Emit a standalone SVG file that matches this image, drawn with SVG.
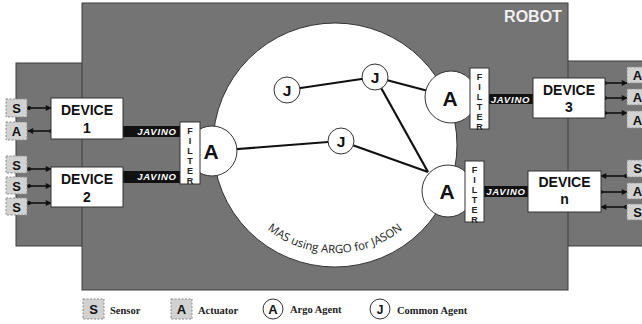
<svg xmlns="http://www.w3.org/2000/svg" width="642" height="324" viewBox="0 0 642 324">
  <style>
    .panel { fill: #747474; stroke: #3c3c3c; stroke-width: 1; }
    .dev { fill: #ffffff; stroke: #333333; stroke-width: 1; }
    .devt { font-family: "Liberation Sans", Arial, sans-serif; font-weight: bold; font-size: 14px; fill: #111; text-anchor: middle; }
    .bar { fill: #111111; }
    .jav { font-family: "Liberation Sans", Arial, sans-serif; font-weight: bold; font-style: italic; font-size: 9.5px; letter-spacing: 0.8px; fill: #ffffff; text-anchor: middle; }
    .filter { fill: #ffffff; stroke: #333333; stroke-width: 1; }
    .ft { font-family: "Liberation Sans", Arial, sans-serif; font-weight: bold; font-size: 9px; fill: #222; text-anchor: middle; }
    .io { fill: #d2d2d2; stroke: #8a8a8a; stroke-width: 1; stroke-dasharray: 2 1.5; }
    .iot { font-family: "Liberation Sans", Arial, sans-serif; font-weight: bold; font-size: 13px; fill: #111; text-anchor: middle; }
    .agent { fill: #ffffff; stroke: #333333; stroke-width: 1; }
    .at { font-family: "Liberation Sans", Arial, sans-serif; font-weight: bold; font-size: 21px; fill: #111; text-anchor: middle; }
    .jt { font-family: "Liberation Sans", Arial, sans-serif; font-weight: bold; font-size: 15.5px; fill: #111; text-anchor: middle; }
    .link { stroke: #111111; stroke-width: 2.2; fill: none; }
    .io-link { stroke: #111111; stroke-width: 1.6; fill: none; marker-start: url(#dot); marker-end: url(#head); }
    .leg { font-family: "Liberation Serif", "Times New Roman", serif; font-weight: bold; font-size: 10.5px; fill: #222; }
  </style>
  <defs>
    <marker id="head" viewBox="0 0 8 8" refX="7" refY="4" markerWidth="7" markerHeight="6" orient="auto" markerUnits="userSpaceOnUse">
      <path d="M0,0 L8,4 L0,8 Z" fill="#111"/>
    </marker>
    <marker id="dot" viewBox="0 0 6 6" refX="3" refY="3" markerWidth="4" markerHeight="4" orient="auto" markerUnits="userSpaceOnUse">
      <circle cx="3" cy="3" r="3" fill="#111"/>
    </marker>
    <path id="masArc" d="M233.5,182 A108,108 0 0 0 436.5,182"/>
  </defs>

  <!-- side panels holding the devices -->
  <rect id="left-panel" class="panel" x="16" y="63" width="80" height="183"/>
  <rect id="right-panel" class="panel" x="555" y="61" width="100" height="185"/>

  <!-- robot body -->
  <g id="robot">
    <rect class="panel" x="82" y="3" width="486" height="287"/>
    <text x="533" y="22" font-family="Liberation Sans, Arial, sans-serif" font-weight="bold" font-size="16" fill="#f0f0f0" text-anchor="middle">ROBOT</text>
  </g>

  <!-- multi-agent system -->
  <g id="mas">
    <circle cx="335" cy="145" r="122" fill="#ffffff" stroke="#333" stroke-width="1"/>
    <text font-family="Open Sans, Liberation Sans, sans-serif" font-size="11.5" fill="#222">
      <textPath href="#masArc" startOffset="50%" text-anchor="middle">MAS using ARGO for JASON</textPath>
    </text>
  </g>

  <!-- connectors -->
  <g id="connectors">
    <line class="link" x1="287" y1="90" x2="375" y2="77"/>
    <line class="link" x1="375" y1="77" x2="451" y2="97"/>
    <line class="link" x1="375" y1="77" x2="428" y2="172"/>
    <line class="link" x1="341" y1="141" x2="428" y2="172"/>
    <line class="link" x1="212" y1="151" x2="341" y2="141"/>
    <!-- device I/O links: dot at the source, arrowhead at the receiver -->
    <line class="io-link" x1="29" y1="108" x2="51" y2="108"/>
    <line class="io-link" x1="51" y1="131" x2="28" y2="131"/>
    <line class="io-link" x1="29" y1="169" x2="51" y2="169"/>
    <line class="io-link" x1="29" y1="186" x2="51" y2="186"/>
    <line class="io-link" x1="29" y1="203" x2="51" y2="203"/>
    <line class="io-link" x1="605" y1="83" x2="627" y2="83"/>
    <line class="io-link" x1="605" y1="98" x2="627" y2="98"/>
    <line class="io-link" x1="605" y1="113" x2="627" y2="113"/>
    <line class="io-link" x1="626" y1="176" x2="601" y2="176"/>
    <line class="io-link" x1="601" y1="192" x2="627" y2="192"/>
    <line class="io-link" x1="626" y1="207" x2="601" y2="207"/>
    <!-- JAVINO channels -->
    <rect class="bar" x="123" y="126" width="57" height="11"/>
    <text class="jav" x="157" y="135">JAVINO</text>
    <rect class="bar" x="123" y="171" width="57" height="12"/>
    <text class="jav" x="157" y="180">JAVINO</text>
    <rect class="bar" x="489" y="94" width="44" height="10"/>
    <text class="jav" x="510.5" y="102.5">JAVINO</text>
    <rect class="bar" x="484" y="186" width="44" height="11"/>
    <text class="jav" x="506" y="195">JAVINO</text>
  </g>

  <!-- agents -->
  <g id="agent-j1"><circle class="agent" cx="287" cy="90" r="13"/><text class="jt" x="287" y="95.5">J</text></g>
  <g id="agent-j2"><circle class="agent" cx="375" cy="77" r="13"/><text class="jt" x="375" y="82.5">J</text></g>
  <g id="agent-j3"><circle class="agent" cx="341" cy="141" r="13"/><text class="jt" x="341" y="146.5">J</text></g>
  <g id="argo-left"><circle class="agent" cx="212" cy="151" r="25"/><text class="at" x="211" y="159">A</text></g>
  <g id="argo-top"><circle class="agent" cx="451" cy="97" r="26"/><text class="at" x="450" y="106">A</text></g>
  <g id="argo-bottom"><circle class="agent" cx="448" cy="191" r="26"/><text class="at" x="447" y="199">A</text></g>

  <!-- filters -->
  <g id="filter-left">
    <rect class="filter" x="180" y="122" width="20" height="62"/>
    <text class="ft" x="190" y="133.5">F</text><text class="ft" x="190" y="143.5">I</text><text class="ft" x="190" y="153.5">L</text>
    <text class="ft" x="190" y="163.5">T</text><text class="ft" x="190" y="173.5">E</text><text class="ft" x="190" y="183.5">R</text>
  </g>
  <g id="filter-top">
    <rect class="filter" x="470" y="68" width="19" height="61"/>
    <text class="ft" x="479.5" y="79.5">F</text><text class="ft" x="479.5" y="89.5">I</text><text class="ft" x="479.5" y="99.5">L</text>
    <text class="ft" x="479.5" y="109.5">T</text><text class="ft" x="479.5" y="119.5">E</text><text class="ft" x="479.5" y="129.5">R</text>
  </g>
  <g id="filter-bottom">
    <rect class="filter" x="465" y="161" width="19" height="61"/>
    <text class="ft" x="474.5" y="172.5">F</text><text class="ft" x="474.5" y="182.5">I</text><text class="ft" x="474.5" y="192.5">L</text>
    <text class="ft" x="474.5" y="202.5">T</text><text class="ft" x="474.5" y="212.5">E</text><text class="ft" x="474.5" y="222.5">R</text>
  </g>

  <!-- devices -->
  <g id="device-1"><rect class="dev" x="51" y="98" width="72" height="41"/><text class="devt" x="87" y="115">DEVICE</text><text class="devt" x="87" y="133">1</text></g>
  <g id="device-2"><rect class="dev" x="51" y="167" width="72" height="40"/><text class="devt" x="87" y="184">DEVICE</text><text class="devt" x="87" y="202">2</text></g>
  <g id="device-3"><rect class="dev" x="533" y="78" width="72" height="40"/><text class="devt" x="569" y="95">DEVICE</text><text class="devt" x="569" y="112">3</text></g>
  <g id="device-n"><rect class="dev" x="528" y="171" width="73" height="41"/><text class="devt" x="564.5" y="187">DEVICE</text><text class="devt" x="564.5" y="204">n</text></g>

  <!-- sensors and actuators -->
  <g id="left-io">
    <rect class="io" x="6" y="99" width="21" height="18"/><text class="iot" x="16.5" y="113">S</text>
    <rect class="io" x="6" y="122" width="21" height="18"/><text class="iot" x="16.5" y="136">A</text>
    <rect class="io" x="6" y="156" width="21" height="17"/><text class="iot" x="16.5" y="169.5">S</text>
    <rect class="io" x="6" y="177" width="21" height="17"/><text class="iot" x="16.5" y="190.5">S</text>
    <rect class="io" x="6" y="198" width="21" height="17"/><text class="iot" x="16.5" y="211.5">S</text>
  </g>
  <g id="right-io">
    <rect class="io" x="627" y="67" width="21" height="16"/><text class="iot" x="637.5" y="80">A</text>
    <rect class="io" x="627" y="89" width="21" height="16"/><text class="iot" x="637.5" y="102">A</text>
    <rect class="io" x="627" y="111" width="21" height="17"/><text class="iot" x="637.5" y="124.5">A</text>
    <rect class="io" x="627" y="160" width="21" height="17"/><text class="iot" x="637.5" y="173">S</text>
    <rect class="io" x="627" y="183" width="21" height="16"/><text class="iot" x="637.5" y="196">A</text>
    <rect class="io" x="627" y="204" width="21" height="16"/><text class="iot" x="637.5" y="217">S</text>
  </g>

  <!-- legend -->
  <g id="legend">
    <rect class="io" x="83" y="299" width="21" height="20"/><text class="iot" x="93.5" y="314">S</text>
    <text class="leg" x="110" y="314">Sensor</text>
    <rect class="io" x="171" y="299" width="21" height="20"/><text class="iot" x="181.5" y="314">A</text>
    <text class="leg" x="198" y="314">Actuator</text>
    <circle class="agent" cx="273" cy="309" r="10"/><text x="273" y="314" font-family="Liberation Sans, Arial, sans-serif" font-weight="bold" font-size="13" fill="#111" text-anchor="middle">A</text>
    <text class="leg" x="290" y="313">Argo Agent</text>
    <circle class="agent" cx="380" cy="309" r="10"/><text x="380" y="313.5" font-family="Liberation Sans, Arial, sans-serif" font-weight="bold" font-size="12" fill="#111" text-anchor="middle">J</text>
    <text class="leg" x="397" y="314">Common Agent</text>
  </g>
</svg>
